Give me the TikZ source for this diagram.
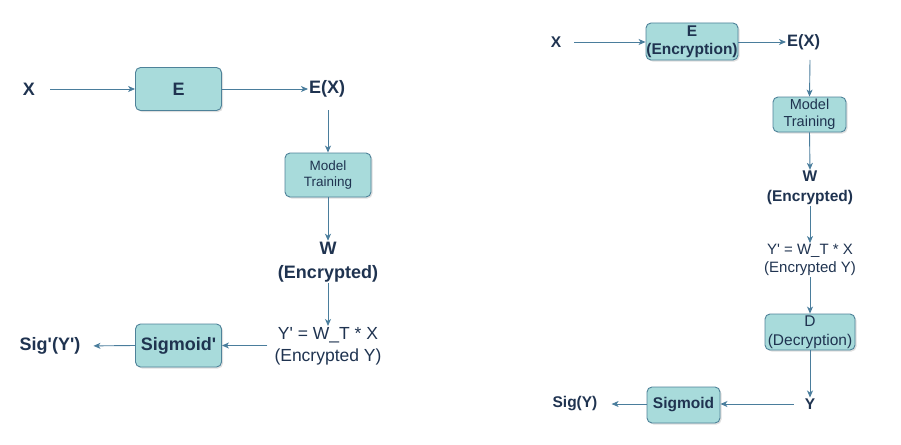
\documentclass[tikz,border=0pt]{standalone}
\usepackage{fontspec}
\setmainfont[Ligatures=NoCommon]{Liberation Sans}
\usetikzlibrary{arrows.meta,shadows}
\definecolor{boxfill}{HTML}{A8DBDB}
\definecolor{boxline}{HTML}{4E8299}
\definecolor{txt}{HTML}{1F3350}
\definecolor{arr}{HTML}{4A7D9C}
\newcommand\qq{\textquotesingle}
\tikzset{
  blk/.style={draw=boxline, fill=boxfill, rounded corners=5pt, line width=0.9pt, inner sep=0pt,
    drop shadow={opacity=0.25, shadow xshift=1.5pt, shadow yshift=-1.5pt}, text=txt, align=center},
  lbl/.style={text=txt, align=center, inner sep=1pt},
  con/.style={draw=arr, line width=0.9pt, -{Stealth[length=7pt,width=6pt,inset=2pt]}},
  fL/.style={font=\fontsize{18}{21}\selectfont\bfseries},
  fLr/.style={font=\fontsize{17.5}{21}\selectfont},
  fR/.style={font=\fontsize{15.5}{18}\selectfont\bfseries},
  fRr/.style={font=\fontsize{15}{18}\selectfont},
}
\begin{document}
\begin{tikzpicture}[x=1pt,y=-1pt]
\useasboundingbox (0,0) rectangle (901,444);
% ---------- Left diagram ----------
\node[lbl,fL] (lx) at (29,89) {X};
\node[blk,fL,minimum width=86pt,minimum height=43pt] (le) at (178.5,89) {E};
\node[lbl,fL,anchor=west] (lex) at (308,89) {E(X)};
\node[blk,minimum width=86pt,minimum height=44pt,font=\fontsize{13.5}{15.5}\selectfont] (lmt) at (328,175) {Model\\Training};
\node[lbl,fL,font=\fontsize{18}{24}\selectfont\bfseries] (lw) at (328,262) {W\\(Encrypted)};
\node[lbl,fLr,font=\fontsize{17.5}{22}\selectfont] (ly) at (328,346) {Y\qq{} = W\_T * X\\(Encrypted Y)};
\node[blk,fL,minimum width=86pt,minimum height=43pt] (ls) at (178.5,345.5) {Sigmoid\qq};
\node[lbl,fL] (lsig) at (50,346) {Sig\qq(Y\qq)};
\coordinate (lxe) at (50,89);
\draw[con] (lxe) -- (le.west);
\draw[con] (le.east) -- (lex.west);
\draw[con] (328,110) -- (lmt.north);
\draw[con] (lmt.south) -- (lw.north);
\draw[con] (lw.south) -- (ly.north);
\draw[con,shorten <=6pt] (ly.west |- ls) -- (ls.east);
\draw[con,shorten >=12pt] (ls.west) -- (lsig.east);
% ---------- Right diagram ----------
\node[lbl,fR] (rx) at (556,42) {X};
\node[blk,minimum width=92pt,minimum height=37pt] (re) at (692,41.5) {};
\node[lbl,fR,font=\fontsize{15.5}{17.5}\selectfont\bfseries] (ret) at (692,42) {E\\(Encryption)};
\node[lbl,fR,anchor=west,font=\fontsize{16.5}{18}\selectfont\bfseries] (rex) at (786,42) {E(X)};
\node[blk,minimum width=73pt,minimum height=35pt,font=\fontsize{14.5}{17}\selectfont] (rmt) at (809.5,114.5) {Model\\Training};
\node[lbl,fR,font=\fontsize{15.5}{20}\selectfont\bfseries] (rw) at (810,188) {W\\(Encrypted)};
\node[lbl,fRr] (ry) at (810,260) {Y\qq{} = W\_T * X\\(Encrypted Y)};
\node[blk,minimum width=90pt,minimum height=36pt] (rd) at (810,332) {};
\node[lbl,fRr,font=\fontsize{15.5}{19}\selectfont] (rdt) at (810,332) {D\\(Decryption)};
\node[lbl,fR] (ryy) at (810,404) {Y};
\node[blk,fR,minimum width=73pt,minimum height=36pt] (rs) at (683.5,405) {Sigmoid};
\node[lbl,fR] (rsig) at (575,404) {Sig(Y)};
\coordinate (rxe) at (574,42);
\draw[con] (rxe) -- (re.west |- rxe);
\draw[con] (re.east |- rxe) -- (rex.west);
\draw[con] (810,60) -- (rmt.north);
\draw[con] (rmt.south) -- (rw.north);
\draw[con] (rw.south) -- (ry.north);
\draw[con] (ry.south) -- (rd.north);
\draw[con] (rd.south) -- (ryy.north);
\draw[con,shorten <=10pt] (ryy.west) -- (rs.east |- ryy);
\draw[con,shorten >=13pt] (rs.west |- rsig) -- (rsig.east);
\end{tikzpicture}
\end{document}
